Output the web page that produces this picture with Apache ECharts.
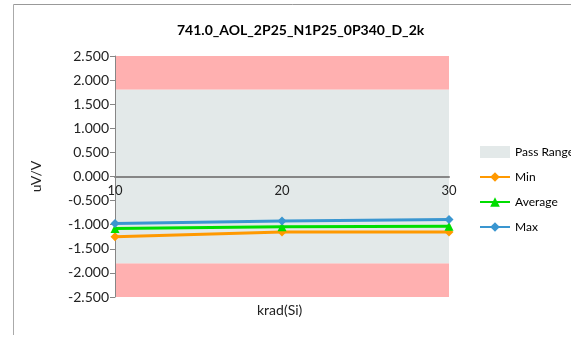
<!DOCTYPE html>
<html><head><meta charset="utf-8">
<script src="https://cdn.jsdelivr.net/npm/echarts@6/dist/echarts.min.js"></script>
<style>html,body{margin:0;padding:0;background:#fff}#c{width:571px;height:337px}</style>
</head><body><div id="c"></div>
<script>
var categories = [10, 20, 30];
var minVals = [-1.25, -1.15, -1.15];
var avgVals = [-1.08, -1.04, -1.03];
var maxVals = [-0.977, -0.923, -0.894];
var passRange = [-1.8, 1.8];
var yLimits = [-2.5, 2.5];
var titleText = '741.0_AOL_2P25_N1P25_0P340_D_2k';
var xName = 'krad(Si)';

function pts(v){ return categories.map(function(c,i){ return [c, v[i]]; }); }
var font = 'Lato, "Open Sans", sans-serif';
var gridTop = 56, gridBottom = 40, H = 337;
var plotH = H - gridTop - gridBottom;
var zeroOffset = -plotH * (yLimits[1] - 0) / (yLimits[1] - yLimits[0]);
var chart = echarts.init(document.getElementById('c'), null, {renderer:'canvas'});
chart.setOption({
  animation:false,
  textStyle:{fontFamily:font},
  title:{text:titleText, left:172, top:18, textStyle:{fontSize:14, fontWeight:'bold', color:'#000', fontFamily:font}},
  grid:{left:115, right:122, top:gridTop, bottom:gridBottom},
  graphic:[
    {type:'line', shape:{x1:13.5,y1:4.5,x2:571,y2:4.5}, style:{stroke:'#999', lineWidth:1}},
    {type:'line', shape:{x1:13.5,y1:4.5,x2:13.5,y2:335}, style:{stroke:'#aaa', lineWidth:1}},
    {type:'text', left:257, top:303, style:{text:xName, fontSize:14, fill:'#222', fontFamily:font}}
  ],
  legend:{
    orient:'vertical', left:474, top:141, itemGap:13, itemWidth:30, itemHeight:12,
    textStyle:{fontSize:12, color:'#000', fontFamily:font},
    data:[
      {name:'Pass Range', icon:'rect', itemStyle:{color:'#e3e9e9'}},
      {name:'Min'},{name:'Average'},{name:'Max'}
    ]
  },
  xAxis:{
    type:'value', min:categories[0], max:categories[categories.length-1], interval:10, z:5,
    position:'top', offset:zeroOffset,
    axisLine:{onZero:false, lineStyle:{color:'#868686', width:2}},
    axisTick:{show:false}, splitLine:{show:false},
    axisLabel:{inside:true, color:'#222', fontSize:13, margin:8, fontFamily:font}
  },
  yAxis:{
    type:'value', min:yLimits[0], max:yLimits[1], interval:0.5, z:5,
    axisLine:{show:true, lineStyle:{color:'#868686', width:1}},
    axisTick:{show:true, length:5, lineStyle:{color:'#868686'}},
    splitLine:{show:false},
    axisLabel:{formatter:function(v){return v.toFixed(3);}, color:'#222', fontSize:14, margin:6, fontFamily:font},
    name:'uV/V', nameLocation:'middle', nameGap:72, nameRotate:90,
    nameTextStyle:{fontSize:14, color:'#222', fontFamily:font}
  },
  series:[
    {name:'Limits', type:'line', data:[], silent:true, z:1,
     markArea:{silent:true, z:1, itemStyle:{color:'#ffb0b0'}, data:[
       [{yAxis:passRange[1]},{yAxis:yLimits[1]}],
       [{yAxis:yLimits[0]},{yAxis:passRange[0]}]
     ]}},
    {name:'Pass Range', type:'line', data:[], silent:true, z:1, itemStyle:{color:'#e3e9e9'},
     markArea:{silent:true, z:1, itemStyle:{color:'#e3e9e9'}, data:[[{yAxis:passRange[0]},{yAxis:passRange[1]}]]}},
    {name:'Min', type:'line', data:pts(minVals), symbol:'diamond', symbolSize:9, z:6,
     lineStyle:{color:'#ff9900', width:3}, itemStyle:{color:'#ff9900'}},
    {name:'Average', type:'line', data:pts(avgVals), symbol:'triangle', symbolSize:9, z:6,
     lineStyle:{color:'#00dd00', width:3}, itemStyle:{color:'#00dd00'}},
    {name:'Max', type:'line', data:pts(maxVals), symbol:'diamond', symbolSize:9, z:6,
     lineStyle:{color:'#3a96d0', width:3}, itemStyle:{color:'#3a96d0'}}
  ]
});
</script></body></html>
